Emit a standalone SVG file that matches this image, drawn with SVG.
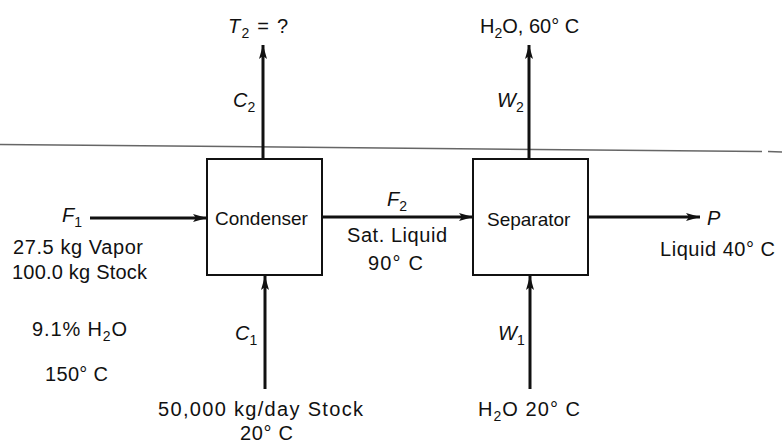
<svg xmlns="http://www.w3.org/2000/svg" width="782" height="445" viewBox="0 0 782 445">
<defs>
<style>
text{font-family:"Liberation Sans",Arial,sans-serif;font-size:20px;fill:#111}
.box{fill:#fff;stroke:#111;stroke-width:2}
.lbl{font-size:19px}
.it{font-style:italic}
.sub{font-size:14px;font-style:normal}
.flow{stroke:#111;stroke-width:3;fill:none;marker-end:url(#ah)}
.rule{stroke:#666;stroke-width:1.5;fill:none}
</style>
<marker id="ah" viewBox="0 0 14 8" refX="14" refY="4" markerWidth="14" markerHeight="8" orient="auto" markerUnits="userSpaceOnUse">
<path d="M0,0 L14,4 L0,8 L3,4 Z" fill="#111"/>
</marker>
</defs>
<line class="rule" x1="0" y1="144.5" x2="762" y2="151.5"/>
<line class="rule" x1="768" y1="151.5" x2="782" y2="152"/>
<g id="connectors">
<line class="flow" x1="90" y1="218" x2="207" y2="218"/>
<line class="flow" x1="322" y1="217" x2="473" y2="217"/>
<line class="flow" x1="588" y1="217" x2="700" y2="217"/>
<line class="flow" x1="263" y1="159" x2="263" y2="45"/>
<line class="flow" x1="529" y1="159" x2="529" y2="45"/>
<line class="flow" x1="265" y1="389" x2="265" y2="276"/>
<line class="flow" x1="530" y1="389" x2="530" y2="276"/>
</g>
<g id="condenser">
<rect class="box" x="207" y="159" width="115" height="116"/>
<text class="lbl" x="215" y="225">Condenser</text>
</g>
<g id="separator">
<rect class="box" x="473" y="159" width="115" height="116"/>
<text class="lbl" x="487" y="226">Separator</text>
</g>
<g id="labels">
<text x="228" y="33" textLength="60"><tspan class="it">T</tspan><tspan class="sub" dy="5">2</tspan><tspan dy="-5"> = ?</tspan></text>
<text x="480" y="33">H<tspan class="sub" dy="5">2</tspan><tspan dy="-5">O, 60° C</tspan></text>
<text class="it" x="233" y="107">C<tspan class="sub" dy="5">2</tspan></text>
<text class="it" x="497" y="107">W<tspan class="sub" dy="5">2</tspan></text>
<text class="it" x="62" y="222">F<tspan class="sub" dy="5">1</tspan></text>
<text x="13" y="254" textLength="130">27.5 kg Vapor</text>
<text x="12" y="279" textLength="135">100.0 kg Stock</text>
<text x="32" y="336" textLength="95">9.1% H<tspan class="sub" dy="5">2</tspan><tspan dy="-5">O</tspan></text>
<text x="45" y="381" textLength="63">150° C</text>
<text class="it" x="387" y="206">F<tspan class="sub" dy="5">2</tspan></text>
<text x="347" y="242" textLength="100">Sat. Liquid</text>
<text x="368" y="270" textLength="55">90° C</text>
<text class="it" x="707" y="225">P</text>
<text x="660" y="256" textLength="115">Liquid 40° C</text>
<text class="it" x="235" y="340">C<tspan class="sub" dy="5">1</tspan></text>
<text class="it" x="498" y="340">W<tspan class="sub" dy="5">1</tspan></text>
<text x="158" y="416" textLength="205">50,000 kg/day Stock</text>
<text x="240" y="440" textLength="53">20° C</text>
<text x="478" y="416" textLength="102">H<tspan class="sub" dy="5">2</tspan><tspan dy="-5">O 20° C</tspan></text>
</g>
</svg>
